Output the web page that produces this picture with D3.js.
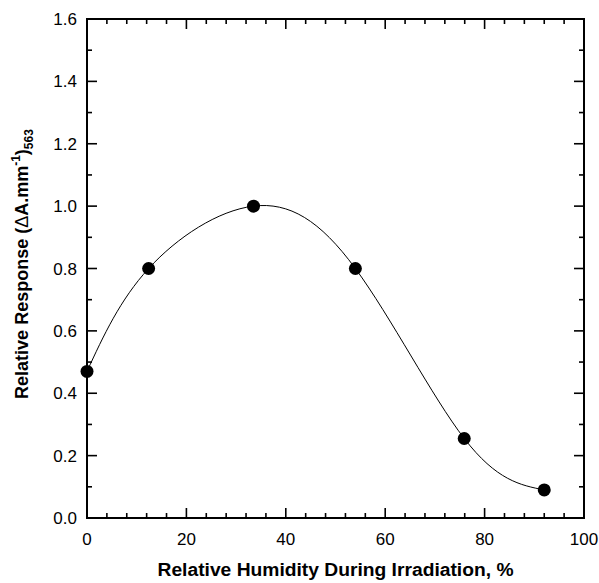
<!DOCTYPE html>
<html>
<head>
<meta charset="utf-8">
<script src="https://cdn.jsdelivr.net/npm/d3@7"></script>
<style>
  html, body { margin: 0; padding: 0; background: #fff; }
  svg text { font-family: "Liberation Sans", Arial, sans-serif; fill: #000; }
</style>
</head>
<body>
<div id="chart"></div>
<script>
// data
const humidity = [0, 12.4, 33.5, 54, 75.9, 92];
const response = [0.47, 0.80, 1.00, 0.80, 0.255, 0.09];
const xTicks = [0, 20, 40, 60, 80, 100];
const yTicks = [0.0, 0.2, 0.4, 0.6, 0.8, 1.0, 1.2, 1.4, 1.6];

const width = 599, height = 583;
const margin = { top: 19, right: 15, bottom: 65, left: 87 };
const innerW = width - margin.left - margin.right;
const innerH = height - margin.top - margin.bottom;

const svg = d3.select('#chart').append('svg')
    .attr('width', width)
    .attr('height', height);

const g = svg.append('g')
    .attr('transform', `translate(${margin.left},${margin.top})`);

const x = d3.scaleLinear().domain([0, 100]).range([0, innerW]);
const y = d3.scaleLinear().domain([0, 1.6]).range([innerH, 0]);

// minor ticks
const xMinor = d3.range(0, 100.001, 4).filter(v => v % 20 !== 0);
const yMinor = d3.range(0.1, 1.6, 0.2);

function drawTicks(sel, scale, vals, len, orient) {
    sel.selectAll(null)
        .data(vals)
        .enter()
        .append('line')
        .attr('stroke', '#000')
        .attr('stroke-width', 1.6)
        .each(function (d) {
            const l = d3.select(this);
            if (orient === 'bottom') l.attr('x1', scale(d)).attr('x2', scale(d)).attr('y1', innerH).attr('y2', innerH - len);
            if (orient === 'top') l.attr('x1', scale(d)).attr('x2', scale(d)).attr('y1', 0).attr('y2', len);
            if (orient === 'left') l.attr('y1', scale(d)).attr('y2', scale(d)).attr('x1', 0).attr('x2', len);
            if (orient === 'right') l.attr('y1', scale(d)).attr('y2', scale(d)).attr('x1', innerW).attr('x2', innerW - len);
        });
}

const ticks = g.append('g').attr('class', 'ticks');
drawTicks(ticks, x, xTicks, 10, 'bottom');
drawTicks(ticks, x, xTicks, 10, 'top');
drawTicks(ticks, x, xMinor, 5, 'bottom');
drawTicks(ticks, x, xMinor, 5, 'top');
drawTicks(ticks, y, yTicks, 10, 'left');
drawTicks(ticks, y, yTicks, 10, 'right');
drawTicks(ticks, y, yMinor, 5, 'left');
drawTicks(ticks, y, yMinor, 5, 'right');

// frame
g.append('rect')
    .attr('width', innerW)
    .attr('height', innerH)
    .attr('fill', 'none')
    .attr('stroke', '#000')
    .attr('stroke-width', 2);

// tick labels
g.append('g').selectAll('text')
    .data(xTicks)
    .enter()
    .append('text')
    .attr('x', d => x(d))
    .attr('y', innerH + 27)
    .attr('text-anchor', 'middle')
    .attr('font-size', '17px')
    .text(d => d);

g.append('g').selectAll('text')
    .data(yTicks)
    .enter()
    .append('text')
    .attr('x', -10)
    .attr('y', d => y(d) + 6)
    .attr('text-anchor', 'end')
    .attr('font-size', '17px')
    .text(d => d.toFixed(1));

// curve through the points
const pts = humidity.map((h, i) => [h, response[i]]);
const line = d3.line()
    .x(d => x(d[0]))
    .y(d => y(d[1]))
    .curve(d3.curveNatural);

g.append('path')
    .datum(pts)
    .attr('d', line)
    .attr('fill', 'none')
    .attr('stroke', '#000')
    .attr('stroke-width', 1);

g.append('g').selectAll('circle')
    .data(pts)
    .enter()
    .append('circle')
    .attr('cx', d => x(d[0]))
    .attr('cy', d => y(d[1]))
    .attr('r', 6.5)
    .attr('fill', '#000');

// axis titles
svg.append('text')
    .attr('x', margin.left + innerW / 2)
    .attr('y', 576)
    .attr('text-anchor', 'middle')
    .attr('font-size', '18px')
    .attr('font-weight', 'bold')
    .attr('textLength', 356)
    .attr('lengthAdjust', 'spacingAndGlyphs')
    .text('Relative Humidity During Irradiation, %');

const yt = svg.append('text')
    .attr('transform', `translate(28, 264) rotate(-90)`)
    .attr('text-anchor', 'middle')
    .attr('font-size', '18px')
    .attr('font-weight', 'bold');
yt.append('tspan').text('Relative Response (');
yt.append('tspan').attr('font-weight', 'normal').text('\u0394');
yt.append('tspan').text('A.mm');
yt.append('tspan').attr('dy', -8).attr('font-size', '12px').text('-1');
yt.append('tspan').attr('dy', 8).text(')');
yt.append('tspan').attr('dy', 5).attr('font-size', '12px').text('563');
</script>
</body>
</html>
